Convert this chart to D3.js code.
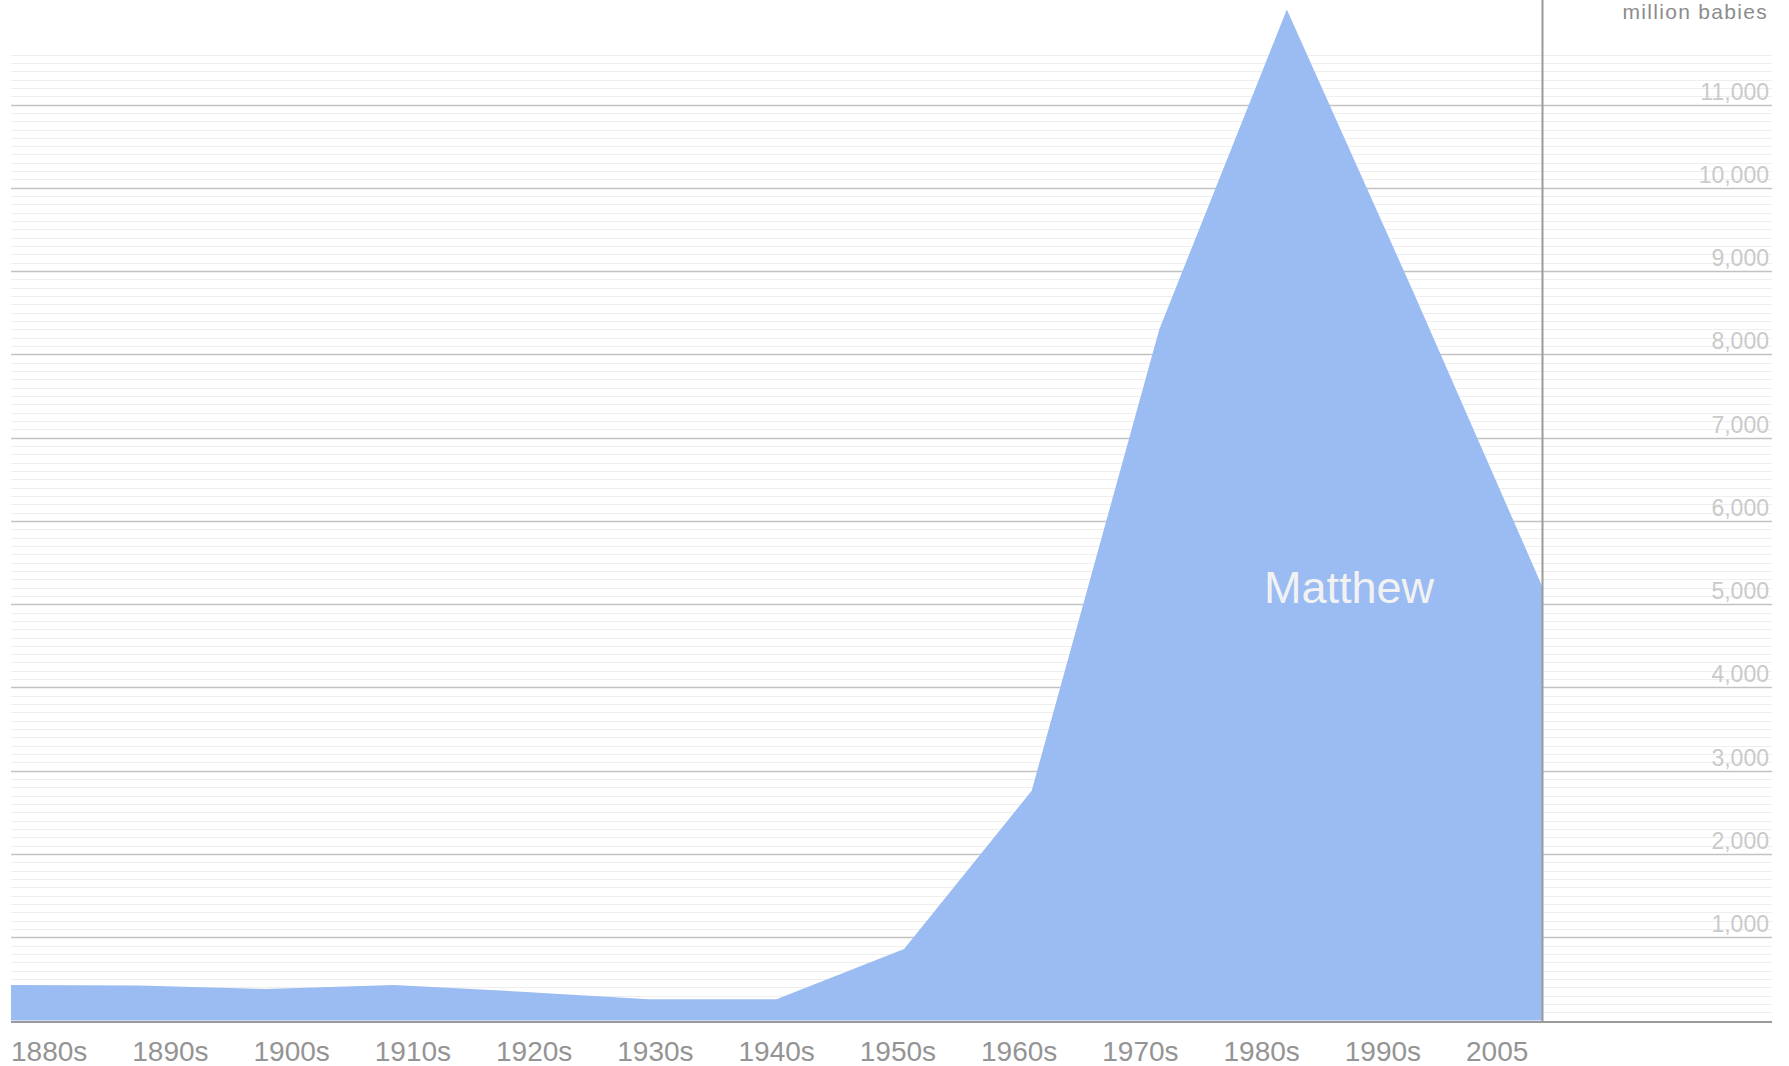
<!DOCTYPE html>
<html>
<head>
<meta charset="utf-8">
<script src="https://cdn.jsdelivr.net/npm/d3@7"></script>
<style>
  html, body { margin: 0; padding: 0; background: #ffffff; }
  svg { display: block; }
</style>
</head>
<body>
<svg id="chart" width="1789" height="1066"></svg>
<script>
// ---- data ----
const decadeLabels = ["1880s","1890s","1900s","1910s","1920s","1930s","1940s","1950s","1960s","1970s","1980s","1990s","2005"];
const years  = [1885, 1895, 1905, 1915, 1925, 1935, 1945, 1955, 1965, 1975, 1985, 1995, 2005];
const values = [427, 420, 378, 427, 347, 255, 255, 860, 2760, 8300, 12140, 8720, 5220];
const majorTicks = [1000, 2000, 3000, 4000, 5000, 6000, 7000, 8000, 9000, 10000, 11000];
const seriesName = "Matthew";
const unitLabel = "million babies";

// ---- layout ----
const W = 1789, H = 1066;
const left = 11, plotRight = 1542, gridRight = 1772;
const y0px = 1020.6, pxPer1000 = 83.28;

const svg = d3.select("#chart");
const x = d3.scaleLinear().domain([1885, 2005]).range([left, plotRight]);
const y = d3.scaleLinear().domain([0, 12000]).range([y0px, y0px - 12 * pxPer1000]);
const xLab = d3.scalePoint().domain(decadeLabels).range([left, 1466]);

// minor grid lines every 100
const minor = d3.range(100, 11700, 100).filter(v => v % 1000 !== 0);
svg.append("g").selectAll("line").data(minor).join("line")
  .attr("x1", left).attr("x2", gridRight)
  .attr("y1", d => Math.round(y(d)) + 0.5).attr("y2", d => Math.round(y(d)) + 0.5)
  .attr("stroke", "#eeeeee").attr("stroke-width", 1.2);

// major grid lines
svg.append("g").selectAll("line").data(majorTicks).join("line")
  .attr("x1", left).attr("x2", gridRight)
  .attr("y1", d => Math.round(y(d)) + 0.5).attr("y2", d => Math.round(y(d)) + 0.5)
  .attr("stroke", "#c2c2c2").attr("stroke-width", 1.6);

// y tick labels
svg.append("g").selectAll("text").data(majorTicks).join("text")
  .attr("x", 1769).attr("y", d => y(d) - 5)
  .attr("text-anchor", "end")
  .attr("font-family", "'Liberation Sans', Arial, sans-serif")
  .attr("font-size", 23)
  .attr("fill", "#cacaca")
  .text(d => d3.format(",")(d));

// unit label
svg.append("text")
  .attr("x", 1768).attr("y", 19)
  .attr("text-anchor", "end")
  .attr("font-family", "'Liberation Sans', Arial, sans-serif")
  .attr("font-size", 21)
  .attr("letter-spacing", 1.3)
  .attr("fill", "#8c8c8c")
  .text(unitLabel);

// area
const area = d3.area()
  .x((d, i) => x(years[i]))
  .y0(y(0))
  .y1(d => y(d))
  .curve(d3.curveLinear);
svg.append("path")
  .datum(values)
  .attr("d", area)
  .attr("fill", "#9abcf2");

// series label
svg.append("text")
  .attr("x", 1349).attr("y", 603)
  .attr("text-anchor", "middle")
  .attr("font-family", "'Liberation Sans', Arial, sans-serif")
  .attr("font-size", 45)
  .attr("fill", "#f2f2f2")
  .text(seriesName);

// vertical line at right end of data
svg.append("line")
  .attr("x1", plotRight + 0.5).attr("x2", plotRight + 0.5)
  .attr("y1", 0).attr("y2", y(0) + 2)
  .attr("stroke", "#9a9a9a").attr("stroke-width", 2);

// baseline
svg.append("line")
  .attr("x1", left).attr("x2", gridRight)
  .attr("y1", y(0) + 1.5).attr("y2", y(0) + 1.5)
  .attr("stroke", "#9a9a9a").attr("stroke-width", 2);

// x labels
svg.append("g").selectAll("text").data(decadeLabels).join("text")
  .attr("x", d => xLab(d)).attr("y", 1061)
  .attr("font-family", "'Liberation Sans', Arial, sans-serif")
  .attr("font-size", 28)
  .attr("fill", "#949494")
  .text(d => d);
</script>
</body>
</html>
